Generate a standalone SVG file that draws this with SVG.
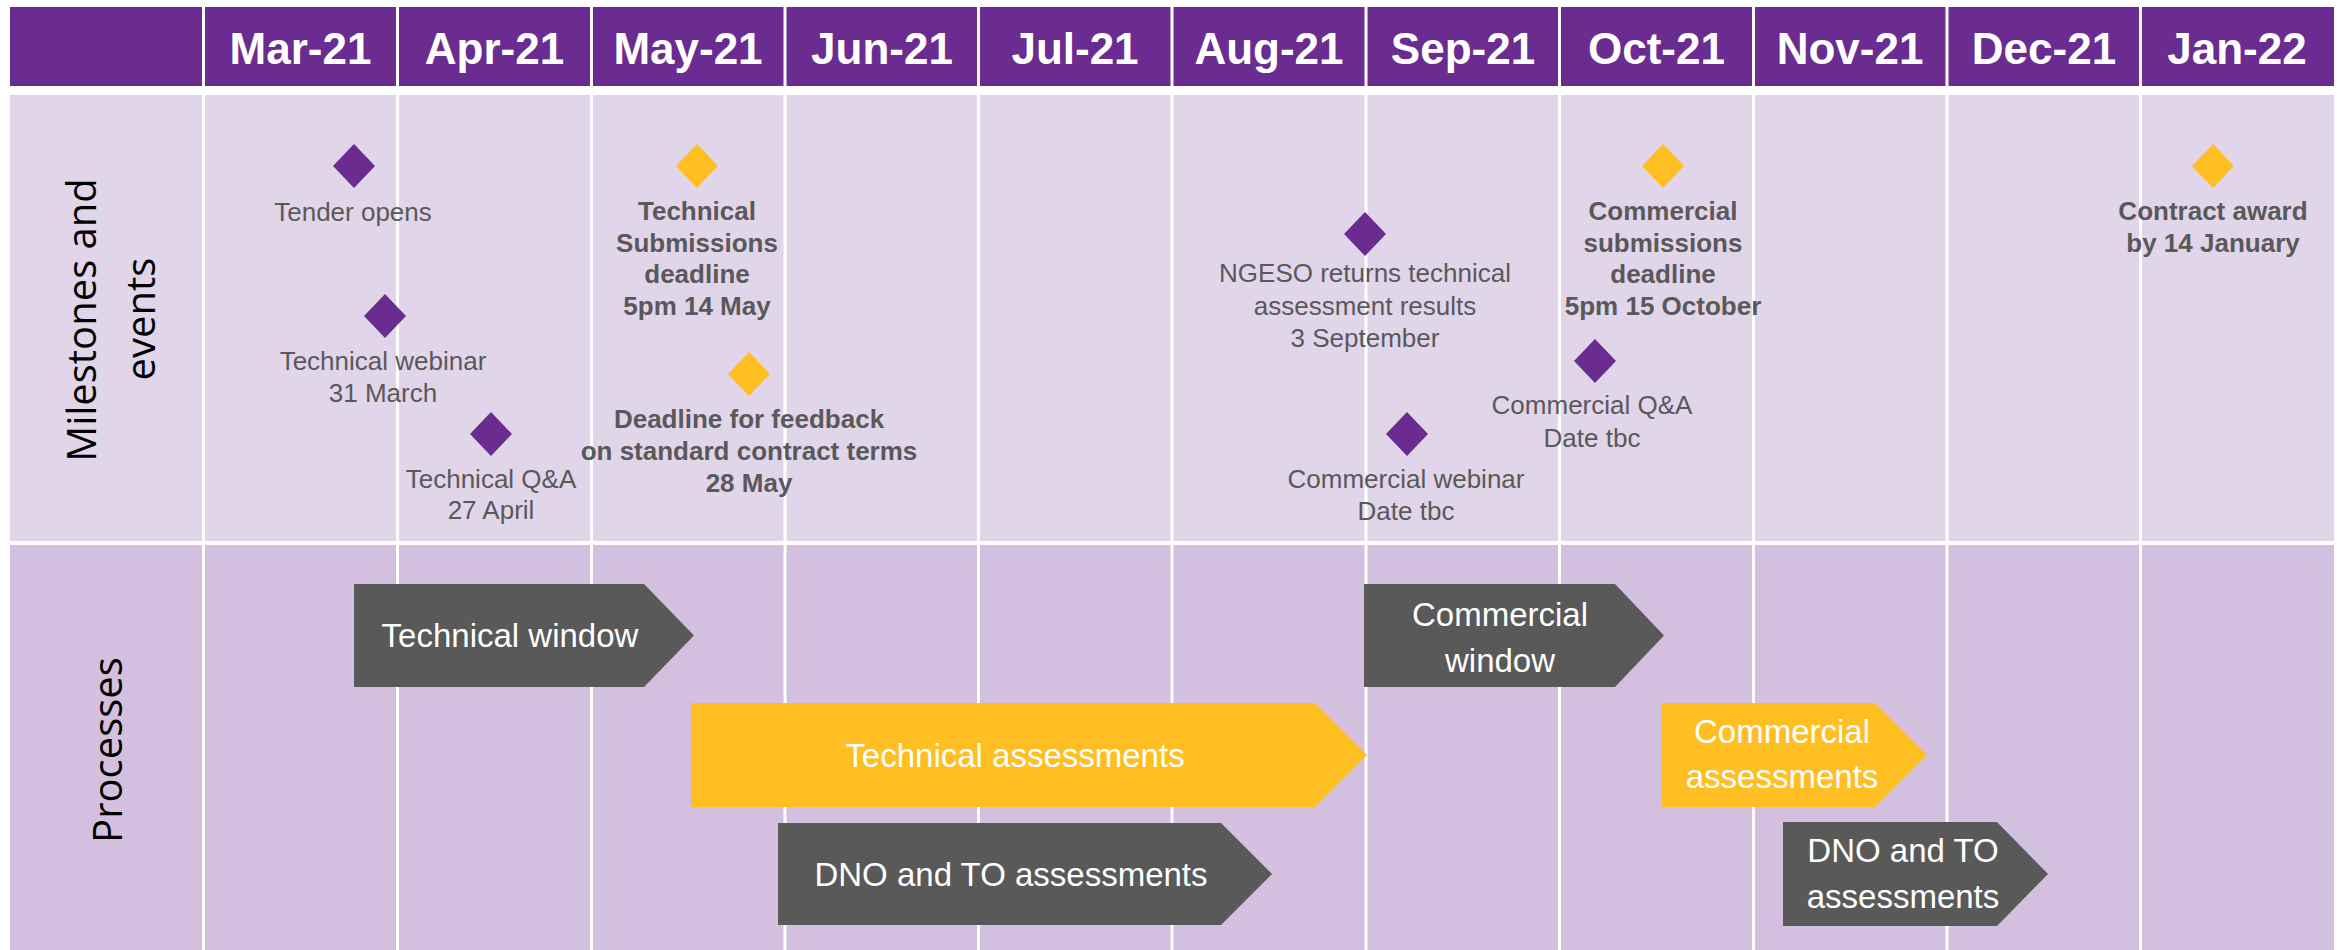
<svg xmlns="http://www.w3.org/2000/svg" width="2338" height="950" viewBox="0 0 2338 950">
<style>
.hdr{fill:#6A2C91}
.band1{fill:#E1D5E9}
.band2{fill:#D3C0DE}
.sep{stroke:#FFFFFF;stroke-width:3}
.month{font-family:"Liberation Sans",Arial,sans-serif;font-weight:bold;font-size:44px;fill:#FFFFFF;text-anchor:middle}
.side{font-family:"Open Sans","DejaVu Sans",sans-serif;font-size:40px;fill:#000000;text-anchor:middle}
.dp{fill:#6A2C91}
.dy{fill:#FFBE22}
.lbl{font-family:"Liberation Sans",Arial,sans-serif;font-size:26px;fill:#595959;text-anchor:middle}
.lblb{font-family:"Liberation Sans",Arial,sans-serif;font-size:26px;font-weight:bold;fill:#595959;text-anchor:middle}
.pg{fill:#595959}
.py{fill:#FFBE22}
.pt{font-family:"Liberation Sans",Arial,sans-serif;font-size:33px;fill:#FFFFFF;text-anchor:middle}
</style>
<defs>
<polygon id="dia" points="0,-22 21,0 0,22 -21,0"/>
</defs>
<rect x="0" y="0" width="2338" height="950" fill="#FFFFFF"/>
<g id="grid">
<rect class="hdr" x="10" y="7" width="2324" height="79"/>
<rect class="band1" x="10" y="95" width="2324" height="446"/>
<rect class="band2" x="10" y="545" width="2324" height="405"/>
<g class="sep">
<line x1="203.5" y1="7" x2="203.5" y2="950"/>
<line x1="397.5" y1="7" x2="397.5" y2="950"/>
<line x1="591.5" y1="7" x2="591.5" y2="950"/>
<line x1="785" y1="7" x2="785" y2="950"/>
<line x1="978.5" y1="7" x2="978.5" y2="950"/>
<line x1="1172" y1="7" x2="1172" y2="950"/>
<line x1="1366" y1="7" x2="1366" y2="950"/>
<line x1="1559.5" y1="7" x2="1559.5" y2="950"/>
<line x1="1753.5" y1="7" x2="1753.5" y2="950"/>
<line x1="1947" y1="7" x2="1947" y2="950"/>
<line x1="2140.5" y1="7" x2="2140.5" y2="950"/>
</g>
</g>
<g id="months">
<text class="month" x="300.5" y="64">Mar-21</text>
<text class="month" x="494.5" y="64">Apr-21</text>
<text class="month" x="688" y="64">May-21</text>
<text class="month" x="882" y="64">Jun-21</text>
<text class="month" x="1075" y="64">Jul-21</text>
<text class="month" x="1269" y="64">Aug-21</text>
<text class="month" x="1463" y="64">Sep-21</text>
<text class="month" x="1656.5" y="64">Oct-21</text>
<text class="month" x="1850" y="64">Nov-21</text>
<text class="month" x="2044" y="64">Dec-21</text>
<text class="month" x="2237" y="64">Jan-22</text>
</g>
<g id="row-labels">
<text class="side" x="96" y="320" transform="rotate(-90 96 320)">Milestones and</text>
<text class="side" x="155" y="319" transform="rotate(-90 155 319)">events</text>
<text class="side" x="122" y="750" transform="rotate(-90 122 750)">Processes</text>
</g>
<g id="m-tender-opens">
<use href="#dia" class="dp" x="354" y="166"/>
<text class="lbl" x="353" y="221">Tender opens</text>
</g>
<g id="m-technical-webinar">
<use href="#dia" class="dp" x="385" y="316"/>
<text class="lbl" x="383" y="370">Technical webinar</text>
<text class="lbl" x="383" y="402">31 March</text>
</g>
<g id="m-technical-qa">
<use href="#dia" class="dp" x="491" y="434"/>
<text class="lbl" x="491" y="488">Technical Q&amp;A</text>
<text class="lbl" x="491" y="519">27 April</text>
</g>
<g id="m-technical-deadline">
<use href="#dia" class="dy" x="697" y="166"/>
<text class="lblb" x="697" y="220">Technical</text>
<text class="lblb" x="697" y="252">Submissions</text>
<text class="lblb" x="697" y="283">deadline</text>
<text class="lblb" x="697" y="315">5pm 14 May</text>
</g>
<g id="m-feedback-deadline">
<use href="#dia" class="dy" x="749" y="374"/>
<text class="lblb" x="749" y="428">Deadline for feedback</text>
<text class="lblb" x="749" y="460">on standard contract terms</text>
<text class="lblb" x="749" y="492">28 May</text>
</g>
<g id="m-ngeso-results">
<use href="#dia" class="dp" x="1365" y="234"/>
<text class="lbl" x="1365" y="282">NGESO returns technical</text>
<text class="lbl" x="1365" y="315">assessment results</text>
<text class="lbl" x="1365" y="347">3 September</text>
</g>
<g id="m-commercial-webinar">
<use href="#dia" class="dp" x="1407" y="434"/>
<text class="lbl" x="1406" y="488">Commercial webinar</text>
<text class="lbl" x="1406" y="520">Date tbc</text>
</g>
<g id="m-commercial-qa">
<use href="#dia" class="dp" x="1595" y="361"/>
<text class="lbl" x="1592" y="414">Commercial Q&amp;A</text>
<text class="lbl" x="1592" y="447">Date tbc</text>
</g>
<g id="m-commercial-deadline">
<use href="#dia" class="dy" x="1663" y="166"/>
<text class="lblb" x="1663" y="220">Commercial</text>
<text class="lblb" x="1663" y="252">submissions</text>
<text class="lblb" x="1663" y="283">deadline</text>
<text class="lblb" x="1663" y="315">5pm 15 October</text>
</g>
<g id="m-contract-award">
<use href="#dia" class="dy" x="2213" y="166"/>
<text class="lblb" x="2213" y="220">Contract award</text>
<text class="lblb" x="2213" y="252">by 14 January</text>
</g>
<g id="p-technical-window">
<polygon class="pg" points="354,584 644,584 694,635.5 644,687 354,687"/>
<text class="pt" x="510" y="647">Technical window</text>
</g>
<g id="p-technical-assessments">
<polygon class="py" points="691,703 1315,703 1367,755 1315,807 691,807"/>
<text class="pt" x="1015" y="767">Technical assessments</text>
</g>
<g id="p-dno-to-1">
<polygon class="pg" points="778,823 1221,823 1272,874 1221,925 778,925"/>
<text class="pt" x="1011" y="886">DNO and TO assessments</text>
</g>
<g id="p-commercial-window">
<polygon class="pg" points="1364,584 1615,584 1664,635.5 1615,687 1364,687"/>
<text class="pt" x="1500" y="626">Commercial</text>
<text class="pt" x="1500" y="672">window</text>
</g>
<g id="p-commercial-assessments">
<polygon class="py" points="1662,703 1875,703 1927,755 1875,807 1662,807"/>
<text class="pt" x="1782" y="743">Commercial</text>
<text class="pt" x="1782" y="788">assessments</text>
</g>
<g id="p-dno-to-2">
<polygon class="pg" points="1783,822 1997,822 2048,874 1997,926 1783,926"/>
<text class="pt" x="1903" y="862">DNO and TO</text>
<text class="pt" x="1903" y="908">assessments</text>
</g>
<g id="connectors"></g>
</svg>
